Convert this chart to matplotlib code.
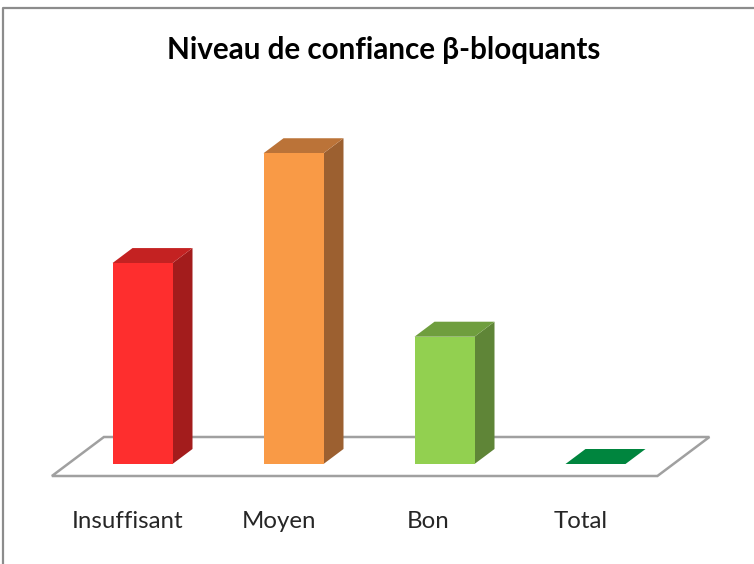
import matplotlib
matplotlib.use('Agg')
import matplotlib.pyplot as plt
from matplotlib.patches import Polygon, Rectangle

plt.rcParams['font.family'] = ['Lato', 'DejaVu Sans']

## data
categories = ['Insuffisant', 'Moyen', 'Bon', 'Total']
values = [32.2, 49.8, 20.4, 0.0]
front_colors = ['#fe2e2e', '#f99a46', '#92d050', '#92d050']
top_colors = ['#c42222', '#bb7338', '#6f9e3e', '#00853e']
side_colors = ['#a31c1c', '#9c6030', '#5f8537', '#00853e']
title = 'Niveau de confiance \u03b2-bloquants'

## pseudo 3D look: depth of the bars and of the floor, in data units
bar_w = 60 / 151
dx = 20 / 151
dy = 15 / 6.24

fig = plt.figure(figsize=(7.54, 5.64), dpi=100)
ax = fig.add_axes([0, 0, 1, 1])
ax.set_xlim(-142.5 / 151, (754 - 142.5) / 151)
ax.set_ylim(-100 / 6.24, 464 / 6.24)
ax.axis('off')

## outer frame of the chart, open on the right and at the bottom
fig.add_artist(plt.Line2D([3 / 754, 3 / 754, 1], [0, 1 - 7.5 / 564, 1 - 7.5 / 564],
                          color='#8c8c8c', lw=1.6))

## floor
floor_l = -0.6
floor_r = 3.41
floor_front = -12 / 6.24
floor_back = 27 / 6.24
floor_dx = 52 / 151
ax.add_patch(Polygon([(floor_l, floor_front), (floor_r, floor_front),
                      (floor_r + floor_dx, floor_back), (floor_l + floor_dx, floor_back)],
                     closed=True, fc='white', ec='#a0a0a0', lw=1.8, joinstyle='miter', zorder=1))

## bars
label_shift = [-15, -15, -16.5, -15]
for i, v in enumerate(values):
    l = i - bar_w / 2
    r = i + bar_w / 2
    ax.add_patch(Polygon([(r, 0), (r + dx, dy), (r + dx, v + dy), (r, v)],
                         closed=True, fc=side_colors[i], ec='none', zorder=2))
    ax.add_patch(Polygon([(l, v), (r, v), (r + dx, v + dy), (l + dx, v + dy)],
                         closed=True, fc=top_colors[i], ec='none', zorder=2))
    if v > 0:
        ax.add_patch(Rectangle((l, 0), bar_w, v, fc=front_colors[i], ec='none', zorder=3))
    ax.text(i + label_shift[i] / 151, -57 / 6.24, categories[i], ha='center', va='center',
            fontsize=17.3, color='#262626')

ax.text(241 / 151, (464 - 49.5) / 6.24, title, ha='center', va='center',
        fontsize=21.3, fontweight='bold', color='black')

fig.savefig('out.png', dpi=100)
